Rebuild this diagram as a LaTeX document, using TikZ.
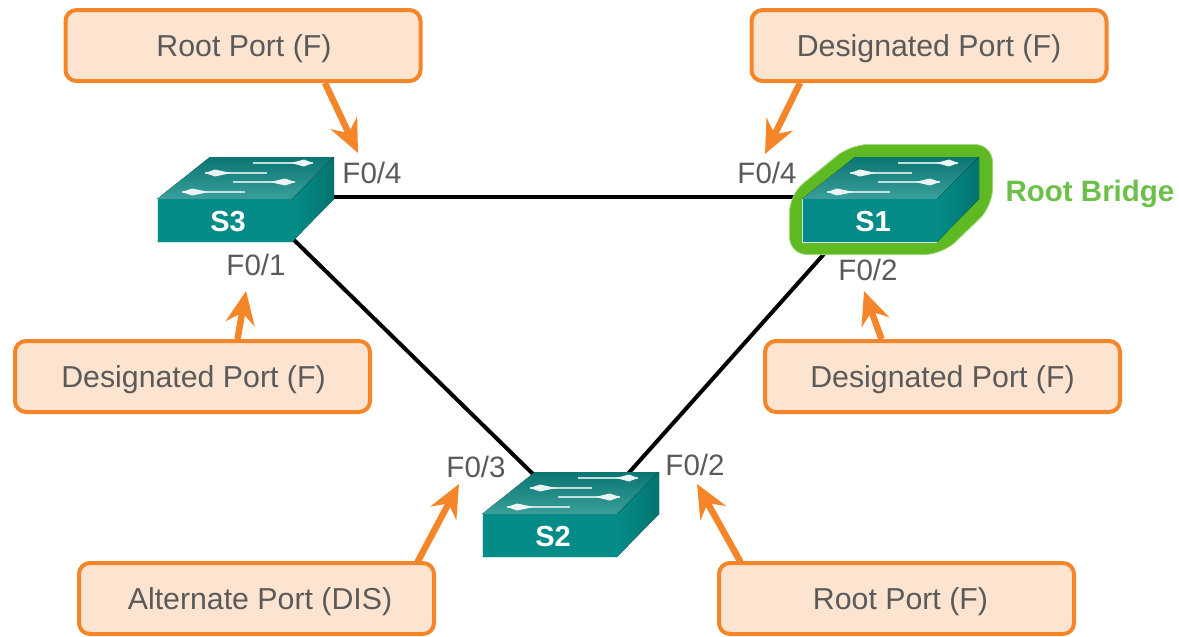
\documentclass[tikz,border=0pt]{standalone}
\usepackage{fontspec}
\setmainfont{Liberation Sans}
\usetikzlibrary{arrows.meta,calc}
\definecolor{orangeline}{HTML}{F58529}
\definecolor{boxfill}{HTML}{FDE4D0}
\definecolor{labelgray}{HTML}{5A5A5A}
\definecolor{tealfront}{HTML}{058C88}
\definecolor{tealback}{HTML}{0A7572}
\definecolor{tealmid}{HTML}{3A9F9B}
\definecolor{tealside}{HTML}{037470}
\definecolor{haloGreen}{HTML}{5FB922}
\definecolor{rootGreen}{HTML}{6CC04A}
\newcommand{\boxtext}[2][0pt]{\hspace*{#1}\raisebox{-10.5pt}[0pt][0pt]{#2}}
\tikzset{
  callout/.style={draw=orangeline,fill=boxfill,line width=4pt,rounded corners=11pt,
    minimum width=355pt,minimum height=71pt,inner sep=0pt,text=labelgray,
    font=\fontsize{30.3}{34}\selectfont},
  portlabel/.style={text=labelgray,inner sep=0pt,font=\fontsize{29.5}{32}\selectfont},
  pointer/.style={draw=orangeline,line width=6.5pt,
    -{Stealth[length=33pt,width=29pt,inset=11pt]}},
  linkline/.style={draw=black,line width=4pt},
  swname/.style={text=white,inner sep=0pt,font=\bfseries\fontsize{29}{32}\selectfont},
  flow/.style={draw=white!82!teal,line width=2.4pt,opacity=.9},
  flowhead/.style={fill=white!92!teal,draw=none}
}
% front-left-bottom corner at (#1,#2); node name #3, caption #4
\newcommand{\swbody}[4]{%
  \begin{scope}[shift={(#1,#2)}]
    \fill[top color=tealback,bottom color=tealmid,shading angle=0] (0,-43) -- (53,-85) -- (177,-85) -- (135,-43) -- cycle;
    \fill[left color=tealfront,right color=tealside] (135,0) -- (135,-43) -- (177,-85) -- (177,-43) -- cycle;
    \fill[tealfront] (0,0) rectangle (135,-43);
    \draw[white!80!tealfront,line width=.5pt] (0,-43) -- (0,0) -- (135,0);
    \node[swname] (#3) at (71,-20) {#4};
    \draw[flow] (96,-79) -- (156,-79);
    \fill[flowhead] (147,-82.5) -- (156,-79) -- (147,-75.5) -- (134,-79) -- cycle;
    \draw[flow] (48,-69) -- (110,-69);
    \fill[flowhead] (58,-72.5) -- (48,-69) -- (58,-65.5) -- (74,-69) -- cycle;
    \draw[flow] (76,-60) -- (138,-60);
    \fill[flowhead] (128,-63.5) -- (138,-60) -- (128,-56.5) -- (113,-60) -- cycle;
    \draw[flow] (25,-50) -- (88,-50);
    \fill[flowhead] (35,-53.5) -- (25,-50) -- (35,-46.5) -- (52,-50) -- cycle;
  \end{scope}}
\begin{document}
\begin{tikzpicture}[x=1pt,y=-1pt]
  \useasboundingbox (0,0) rectangle (1179,637);
  % link ends
  \coordinate (s3east) at (330,197);
  \coordinate (s1west) at (805,197);
  \coordinate (s3south) at (294,240);
  \coordinate (s2nw) at (535,476);
  \coordinate (s1south) at (824,254);
  \coordinate (s2ne) at (626,476);
  \draw[linkline] (s3east) -- (s1west);
  \draw[linkline] (s3south) -- (s2nw);
  \draw[linkline] (s1south) -- (s2ne);
  % root bridge halo
  \fill[haloGreen!55,rounded corners=18pt] (789,255) -- (789,194.5) -- (850.5,144) -- (993,144) -- (993,206.5) -- (942.5,255) -- cycle;
  \fill[haloGreen,rounded corners=17pt] (790,254) -- (790,195) -- (851,145) -- (992,145) -- (992,206) -- (942,254) -- cycle;
  % switches
  \swbody{157}{242}{s3}{S3}
  \swbody{802}{242}{s1}{S1}
  \swbody{482}{557}{s2}{S2}
  \node[text=rootGreen,inner sep=0pt,font=\bfseries\fontsize{29.5}{32}\selectfont] (rootb) at (1090,194) {Root Bridge};
  % port labels
  \node[portlabel] (l34) at (372,173) {F0/4};
  \node[portlabel] (l14) at (767,173) {F0/4};
  \node[portlabel] (l31) at (256,265) {F0/1};
  \node[portlabel] (l12) at (868,270) {F0/2};
  \node[portlabel] (l23) at (476,467) {F0/3};
  \node[portlabel] (l22) at (695,465) {F0/2};
  % callouts
  \node[callout] (c34) at (243,45.5) {\boxtext[2pt]{Root Port (F)}};
  \node[callout] (c14) at (929,45.5) {\boxtext{Designated Port (F)}};
  \node[callout] (c31) at (192.5,376.5) {\boxtext[2pt]{Designated Port (F)}};
  \node[callout] (c12) at (942.5,376.5) {\boxtext{Designated Port (F)}};
  \node[callout] (c23) at (256.5,598.5) {\boxtext[7pt]{Alternate Port (DIS)}};
  \node[callout] (c22) at (896.5,598.5) {\boxtext[8pt]{Root Port (F)}};
  % arrow tips
  \coordinate (t34) at (358,153);
  \coordinate (t14) at (765,154);
  \coordinate (t31) at (246,291);
  \coordinate (t12) at (864,291);
  \coordinate (t23) at (459,484);
  \coordinate (t22) at (697,484);
  \draw[pointer] ([xshift=82pt]c34.south) -- (t34);
  \draw[pointer] ([xshift=-129pt]c14.south) -- (t14);
  \draw[pointer] ([xshift=45pt]c31.north) -- (t31);
  \draw[pointer] ([xshift=-61pt]c12.north) -- (t12);
  \draw[pointer] ([xshift=161pt,yshift=-1pt]c23.north) -- (t23);
  \draw[pointer] ([xshift=-156pt,yshift=-1pt]c22.north) -- (t22);
\end{tikzpicture}
\end{document}
